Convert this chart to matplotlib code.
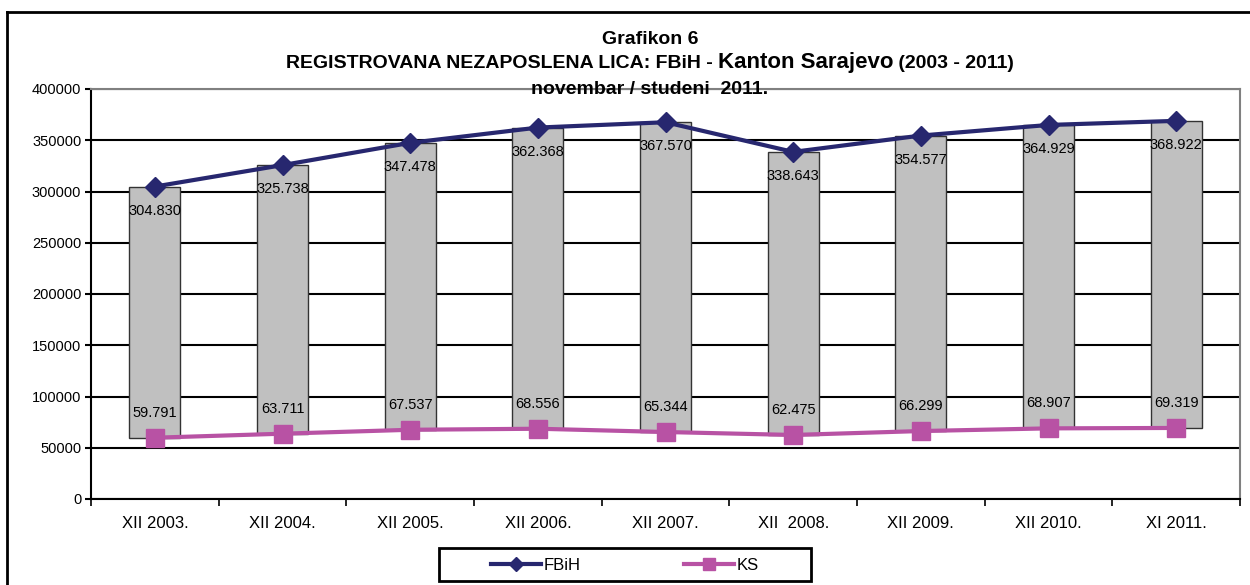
import matplotlib
matplotlib.use('Agg')
import matplotlib.pyplot as plt
from matplotlib.lines import Line2D
from matplotlib.patches import Rectangle
import numpy as np

plt.rcParams['font.family'] = ['Liberation Sans', 'DejaVu Sans']

categories = ['XII 2003.', 'XII 2004.', 'XII 2005.', 'XII 2006.', 'XII 2007.',
              'XII  2008.', 'XII 2009.', 'XII 2010.', 'XI 2011.']
fbih = [304830, 325738, 347478, 362368, 367570, 338643, 354577, 364929, 368922]
ks = [59791, 63711, 67537, 68556, 65344, 62475, 66299, 68907, 69319]

fbih_color = '#27276f'
ks_color = '#b852a4'

W, H = 1250, 585
fig = plt.figure(figsize=(W / 100, H / 100), dpi=100)
ax = fig.add_axes([91 / W, 1 - 499 / H, (1240 - 91) / W, (499 - 89) / H])

x = np.arange(len(categories))
fb = np.array(fbih)
k = np.array(ks)

# high-low bars between the two series
ax.bar(x, fb - k, bottom=k, width=0.4, color='#c0c0c0', edgecolor='#333333',
       linewidth=1, zorder=2)

ax.plot(x, fb, '-', color=fbih_color, lw=3, marker='D', ms=9.7, zorder=3)
ax.plot(x, k, '-', color=ks_color, lw=3, marker='s', ms=13, zorder=3)

def fmt(v):
    return '{:,}'.format(v).replace(',', '.')

for i in range(len(x)):
    ax.annotate(fmt(fbih[i]), (x[i], fbih[i]), xytext=(0, -24), textcoords='offset pixels',
                ha='center', va='center', fontsize=10.5, zorder=4)
    ax.annotate(fmt(ks[i]), (x[i], ks[i]), xytext=(0, 25), textcoords='offset pixels',
                ha='center', va='center', fontsize=10.5, zorder=4)

ax.set_xlim(-0.5, len(categories) - 0.5)
ax.set_ylim(0, 400000)
ax.set_yticks(np.arange(0, 400001, 50000))
ax.tick_params(axis='y', labelsize=10.5, length=4, width=1.5, pad=3)
ax.set_xticks(x)
ax.set_xticklabels(categories)
ax.tick_params(axis='x', which='major', length=0, labelsize=12, pad=12)
ax.set_xticks(np.arange(-0.5, len(categories), 1), minor=True)
ax.tick_params(axis='x', which='minor', length=5, width=1.2)

ax.yaxis.grid(True, color='black', lw=1.5)
ax.set_axisbelow(True)
for s in ['left', 'bottom']:
    ax.spines[s].set_color('black')
    ax.spines[s].set_linewidth(1.5)
for s in ['top', 'right']:
    ax.spines[s].set_color('#808080')
    ax.spines[s].set_linewidth(1.5)

# title, mixed font sizes on the second line
r = fig.canvas.get_renderer()
cx = 650
fig.text(cx / W, 1 - 44 / H, 'Grafikon 6', fontsize=14, fontweight='bold',
         ha='center', va='baseline')
parts = [('REGISTROVANA NEZAPOSLENA LICA: FBiH - ', 14), ('Kanton Sarajevo', 16),
         (' (2003 - 2011)', 14)]
texts = [fig.text(0, 1 - 68 / H, s, fontsize=fs, fontweight='bold', ha='left', va='baseline')
         for s, fs in parts]
widths = [t.get_window_extent(r).width for t in texts]
xs = cx - sum(widths) / 2
for t, w in zip(texts, widths):
    t.set_x(xs / W)
    xs += w
fig.text(cx / W, 1 - 94 / H, 'novembar / studeni  2011.', fontsize=14, fontweight='bold',
         ha='center', va='baseline', zorder=5)

# legend
handles = [Line2D([], [], color=fbih_color, lw=3, marker='D', ms=7),
           Line2D([], [], color=ks_color, lw=3, marker='s', ms=8.5)]
fig.legend(handles, ['FBiH', 'KS'], loc='center', bbox_to_anchor=(625 / W, 1 - 565 / H),
           ncol=2, frameon=False, fontsize=12, handlelength=3.0, handletextpad=0.15,
           columnspacing=6.2)
fig.add_artist(Rectangle((439 / W, 1 - 581 / H), (811 - 439) / W, (581 - 548) / H,
                         transform=fig.transFigure, fill=False, edgecolor='black', lw=2))

# outer chart frame (cropped at right and bottom)
fig.add_artist(Line2D([7 / W, 7 / W], [0, 1 - 12 / H], transform=fig.transFigure,
                      color='black', lw=2))
fig.add_artist(Line2D([7 / W, 1], [1 - 12 / H, 1 - 12 / H], transform=fig.transFigure,
                      color='black', lw=2))

fig.savefig('out.png', dpi=100)
